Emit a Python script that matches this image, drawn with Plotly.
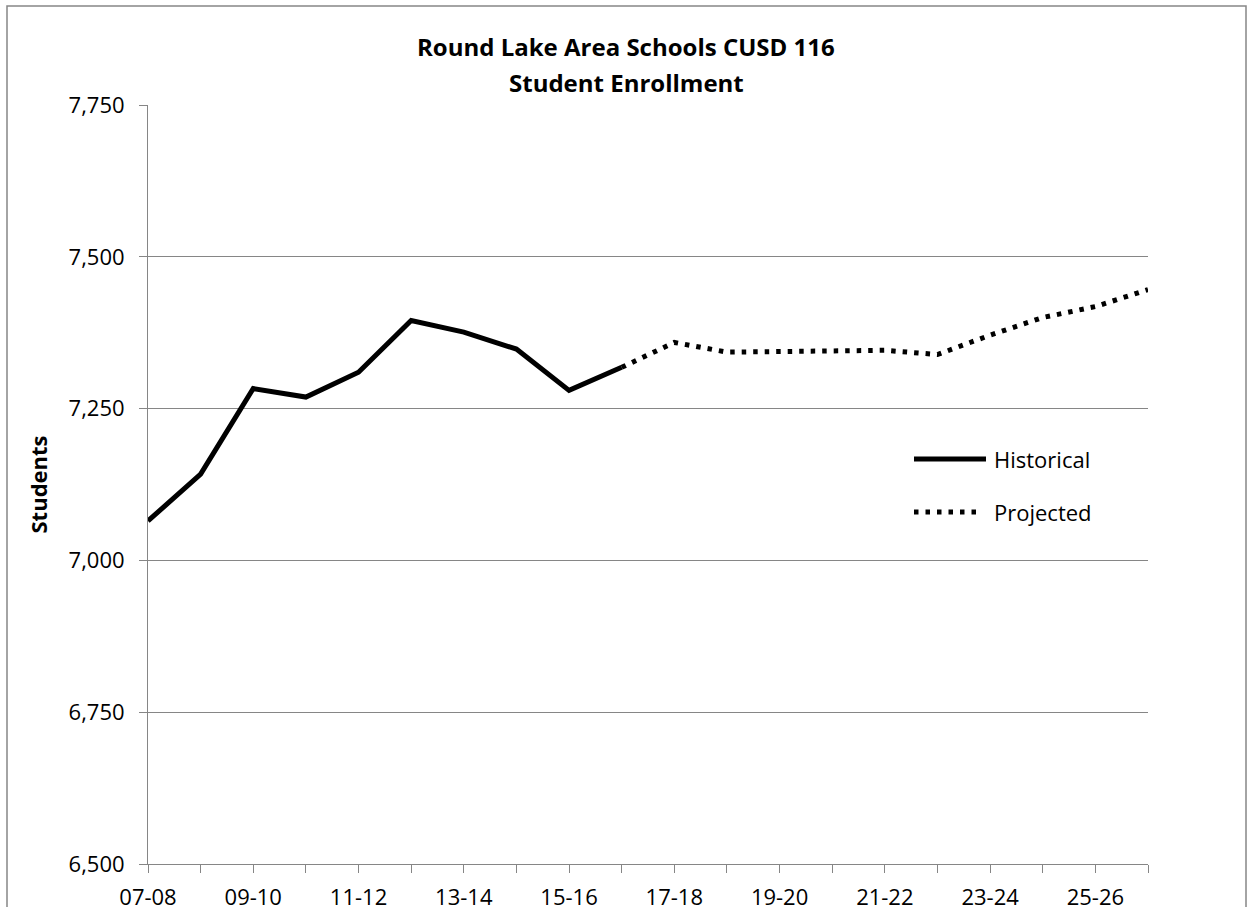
import plotly.graph_objects as go

categories = ["07-08", "08-09", "09-10", "10-11", "11-12", "12-13", "13-14",
              "14-15", "15-16", "16-17", "17-18", "18-19", "19-20", "20-21",
              "21-22", "22-23", "23-24", "24-25", "25-26", "26-27"]
hist_years = categories[0:10]
hist_values = [7065, 7142, 7283, 7269, 7310, 7395, 7376, 7348, 7280, 7318]
proj_years = categories[9:20]
proj_values = [7318, 7359, 7343, 7344, 7344, 7346, 7339, 7371, 7400, 7418, 7446]
y_ticks = [6500, 6750, 7000, 7250, 7500, 7750]
tick_text = [c if i % 2 == 0 else "" for i, c in enumerate(categories)]

FONT = "Open Sans"
GRAY = "#868686"
DOT = "4.5px,7px"

fig = go.Figure()
fig.add_trace(go.Scatter(x=hist_years, y=hist_values, mode="lines",
                         line=dict(color="black", width=5), name="Historical",
                         showlegend=False))
fig.add_trace(go.Scatter(x=proj_years, y=proj_values, mode="lines",
                         line=dict(color="black", width=5, dash=DOT),
                         name="Projected", showlegend=False))

fig.update_layout(
    width=1253, height=907,
    margin=dict(l=148, r=105, t=105, b=43, autoexpand=False),
    paper_bgcolor="white", plot_bgcolor="white",
    font=dict(family=FONT, size=22, color="black"),
    showlegend=False,
)
fig.update_xaxes(
    type="category", categoryorder="array", categoryarray=categories,
    range=[0, len(categories) - 1],
    tickmode="array", tickvals=categories, ticktext=tick_text,
    ticks="outside", ticklen=8, tickcolor=GRAY, tickwidth=1,
    showline=True, linecolor=GRAY, linewidth=1,
    showgrid=False, zeroline=False, automargin=False,
    ticklabelstandoff=6,
)
fig.update_yaxes(
    range=[6500, 7750], tickmode="array", tickvals=y_ticks,
    tickformat=",", ticks="outside", ticklen=8, tickcolor=GRAY, tickwidth=1,
    showline=True, linecolor=GRAY, linewidth=1,
    showgrid=True, gridcolor=GRAY, gridwidth=1, zeroline=False,
    automargin=False, ticklabelstandoff=10,
)

# Title (two lines)
fig.add_annotation(text="<b>Round Lake Area Schools CUSD 116</b>", xref="paper", yref="paper",
                   x=0.478, y=1 + (105 - 46) / 759, xanchor="center", yanchor="middle",
                   showarrow=False, font=dict(family=FONT, size=24))
fig.add_annotation(text="<b>Student Enrollment</b>", xref="paper", yref="paper",
                   x=0.478, y=1 + (105 - 82) / 759, xanchor="center", yanchor="middle",
                   showarrow=False, font=dict(family=FONT, size=24))
# Y axis title
fig.add_annotation(text="<b>Students</b>", xref="paper", yref="paper",
                   x=(37 - 148) / 1000, y=0.5, xanchor="center", yanchor="middle",
                   textangle=-90, showarrow=False, font=dict(family=FONT, size=22))

# Legend (manual)
leg_x0 = (914 - 148) / 1000
leg_x1 = (986 - 148) / 1000
leg_tx = (992 - 148) / 1000
y_hist = 1 - (459 - 105) / 759
y_proj = 1 - (512 - 105) / 759
fig.add_shape(type="line", xref="paper", yref="paper", x0=leg_x0, x1=leg_x1,
              y0=y_hist, y1=y_hist, line=dict(color="black", width=5))
fig.add_shape(type="line", xref="paper", yref="paper", x0=leg_x0, x1=leg_x1 - 0.006,
              y0=y_proj, y1=y_proj, line=dict(color="black", width=5, dash=DOT))
fig.add_annotation(text="Historical", xref="paper", yref="paper", x=leg_tx, y=y_hist,
                   xanchor="left", yanchor="middle", showarrow=False)
fig.add_annotation(text="Projected", xref="paper", yref="paper", x=leg_tx, y=y_proj,
                   xanchor="left", yanchor="middle", showarrow=False)

# Chart border
fig.add_shape(type="rect", xref="paper", yref="paper",
              x0=(7 - 148) / 1000, x1=(1246 - 148) / 1000,
              y0=-(930 - 864) / 759, y1=1 + (105 - 6) / 759,
              line=dict(color=GRAY, width=1.5), fillcolor="rgba(0,0,0,0)", layer="below")

fig.write_html("out.html", config={"displayModeBar": False},
               post_script="document.body.style.margin='0';document.body.style.overflow='hidden';")
